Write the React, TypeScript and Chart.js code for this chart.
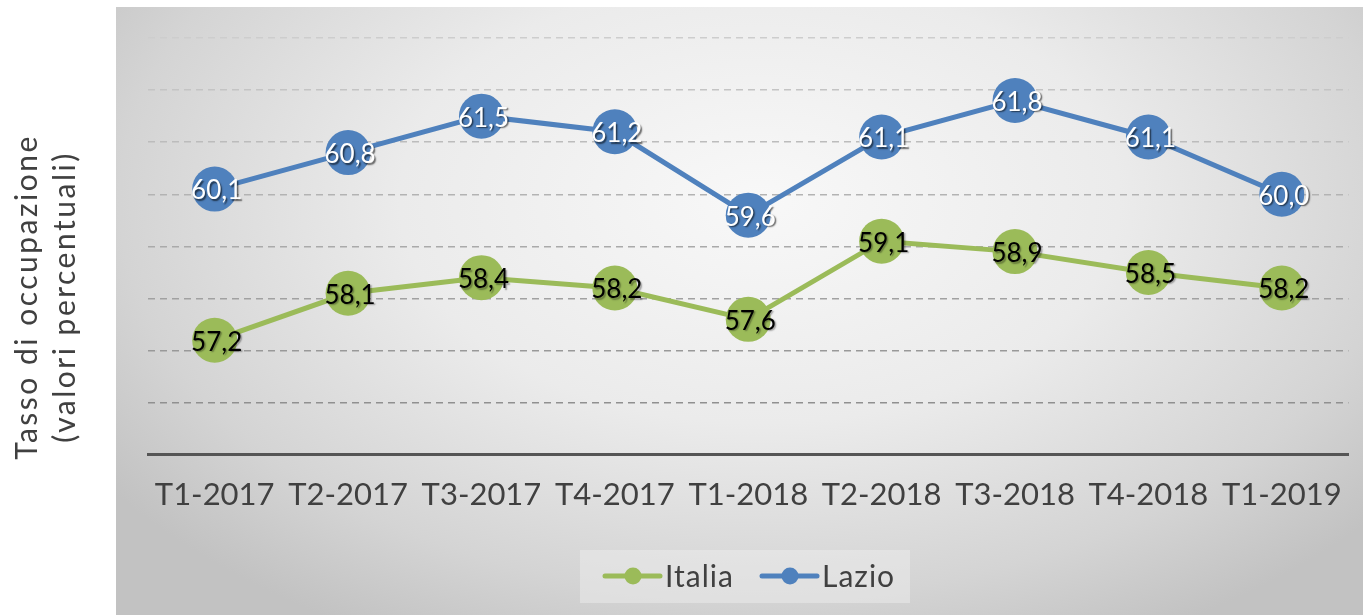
import React, { useEffect, useRef } from "react";
import { Chart, registerables } from "chart.js";

Chart.register(...registerables);

const categories = ["T1-2017", "T2-2017", "T3-2017", "T4-2017", "T1-2018", "T2-2018", "T3-2018", "T4-2018", "T1-2019"];
const italia = [57.2, 58.1, 58.4, 58.2, 57.6, 59.1, 58.9, 58.5, 58.2];
const lazio = [60.1, 60.8, 61.5, 61.2, 59.6, 61.1, 61.8, 61.1, 60.0];
const yMin = 55;
const yMax = 63;
const yTitleLines = ["Tasso di occupazione", "(valori percentuali)"];
const seriesNames = ["Italia", "Lazio"];

const GREEN = "#9BBB59";
const BLUE = "#4F81BD";
const FONT = "Lato, 'DejaVu Sans', sans-serif";
const CANVAS_W = 1371;

const backgroundPlugin = {
  id: "bgPlugin",
  beforeDraw(chart: any) {
    const ctx = chart.ctx;
    ctx.save();
    ctx.fillStyle = "#ffffff";
    ctx.fillRect(0, 0, chart.width, chart.height);
    const x0 = 116, y0 = 7, x1 = 1363, y1 = chart.height;
    ctx.beginPath();
    ctx.rect(x0, y0, x1 - x0, y1 - y0);
    ctx.clip();
    const cx = 760, cy = 200;
    ctx.translate(cx, cy);
    ctx.scale(1, 0.62);
    const R = 800;
    const g = ctx.createRadialGradient(0, 0, 0, 0, 0, R);
    g.addColorStop(0, "#f8f8f8");
    g.addColorStop(0.45, "#ebebeb");
    g.addColorStop(0.8, "#d4d4d4");
    g.addColorStop(1, "#c2c2c2");
    ctx.fillStyle = g;
    ctx.fillRect(-2000, -2000, 4000, 4000);
    ctx.restore();
  },
};

const decorPlugin = {
  id: "decorPlugin",
  afterDatasetsDraw(chart: any) {
    const ctx = chart.ctx;
    ctx.save();
    ctx.font = `26px ${FONT}`;
    ctx.textAlign = "center";
    ctx.textBaseline = "middle";
    chart.data.datasets.forEach((ds: any, di: number) => {
      const meta = chart.getDatasetMeta(di);
      meta.data.forEach((pt: any, i: number) => {
        const v = ds.data[i] as number;
        const txt = v.toFixed(1).replace(".", ",");
        const isBlue = di === 1;
        ctx.shadowColor = isBlue ? "rgba(0,0,0,0.6)" : "rgba(0,0,0,0.35)";
        ctx.shadowOffsetX = 1.5;
        ctx.shadowOffsetY = 1.5;
        ctx.shadowBlur = 1.5;
        ctx.fillStyle = isBlue ? "#ffffff" : "#000000";
        ctx.fillText(txt, pt.x + 2, pt.y + 2);
      });
    });
    ctx.restore();
  },
  afterDraw(chart: any) {
    const ctx = chart.ctx;
    ctx.save();
    // y axis title
    ctx.fillStyle = "#404040";
    ctx.font = `30px ${FONT}`;
    (ctx as any).letterSpacing = "2.5px";
    ctx.textAlign = "center";
    ctx.textBaseline = "alphabetic";
    ctx.translate(37, 297);
    ctx.rotate(-Math.PI / 2);
    ctx.fillText(yTitleLines[0], 0, 0);
    ctx.fillText(yTitleLines[1], 0, 38);
    ctx.restore();

    // legend
    ctx.save();
    ctx.fillStyle = "rgba(240,240,240,0.45)";
    ctx.fillRect(580, 550, 330, 53);
    const items = [
      { color: GREEN, x: 605, label: seriesNames[0] },
      { color: BLUE, x: 762, label: seriesNames[1] },
    ];
    const ly = 576;
    items.forEach((it) => {
      ctx.strokeStyle = it.color;
      ctx.lineWidth = 5;
      ctx.lineCap = "round";
      ctx.beginPath();
      ctx.moveTo(it.x, ly);
      ctx.lineTo(it.x + 55, ly);
      ctx.stroke();
      ctx.fillStyle = it.color;
      ctx.beginPath();
      ctx.arc(it.x + 28, ly, 8.5, 0, Math.PI * 2);
      ctx.fill();
      ctx.fillStyle = "#404040";
      ctx.font = `30px ${FONT}`;
      (ctx as any).letterSpacing = "1px";
      ctx.textAlign = "left";
      ctx.textBaseline = "middle";
      ctx.fillText(it.label, it.x + 60, ly + 1);
    });
    ctx.restore();
  },
};

export default function App() {
  const ref = useRef<HTMLCanvasElement | null>(null);
  useEffect(() => {
    if (!ref.current) return;
    const chart = new Chart(ref.current, {
      type: "line",
      data: {
        labels: categories,
        datasets: [
          {
            label: seriesNames[0],
            data: italia,
            borderColor: GREEN,
            backgroundColor: GREEN,
            borderWidth: 5,
            pointRadius: 22.5,
            pointHoverRadius: 22.5,
            pointBorderWidth: 0,
            pointBackgroundColor: GREEN,
            tension: 0,
            clip: false as any,
          },
          {
            label: seriesNames[1],
            data: lazio,
            borderColor: BLUE,
            backgroundColor: BLUE,
            borderWidth: 5,
            pointRadius: 22.5,
            pointHoverRadius: 22.5,
            pointBorderWidth: 0,
            pointBackgroundColor: BLUE,
            tension: 0,
            clip: false as any,
          },
        ],
      },
      options: {
        responsive: false,
        animation: false,
        devicePixelRatio: 1,
        layout: { padding: { left: 148, right: 16, top: 38, bottom: 79 } },
        plugins: {
          legend: { display: false },
          tooltip: { enabled: false },
        },
        events: [],
        scales: {
          x: {
            offset: true,
            grid: { display: false, drawTicks: false },
            border: { display: true, color: "#555555", width: 3 },
            ticks: {
              color: "#404040",
              font: { family: FONT, size: 31 },
              padding: 22,
              maxRotation: 0,
              autoSkip: false,
            },
          },
          y: {
            min: yMin,
            max: yMax,
            ticks: { display: false, stepSize: 1 },
            grid: {
              drawTicks: false,
              lineWidth: 1.5,
              color: (c: any) => {
                const v = c.tick ? c.tick.value : 0;
                if (v <= yMin) return "rgba(0,0,0,0)";
                const t = (v - yMin) / (yMax - yMin);
                const g = Math.round(135 + t * 70);
                return `rgb(${g},${g},${g})`;
              },
            },
            border: { display: false, dash: [7, 5] },
          },
        },
      },
      plugins: [backgroundPlugin, decorPlugin],
    });
    return () => chart.destroy();
  }, []);
  return (
    <div style={{ position: "fixed", left: 0, top: 0, width: 1363, height: 615, overflow: "hidden" }}>
      <canvas ref={ref} width={CANVAS_W} height={615} style={{ display: "block" }} />
    </div>
  );
}
